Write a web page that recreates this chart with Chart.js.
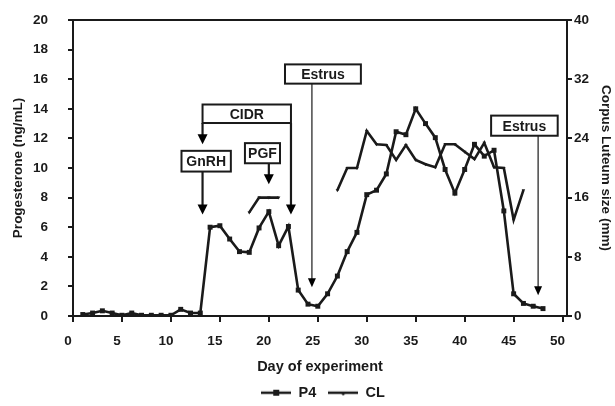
<!DOCTYPE html>
<html>
<head>
<meta charset="utf-8">
<script src="https://cdn.jsdelivr.net/npm/chart.js@4.4.1/dist/chart.umd.min.js"></script>
<style>
  html, body { margin: 0; padding: 0; background: #fff; }
  #wrap { width: 615px; height: 406px; }
</style>
</head>
<body>
<div id="wrap"><canvas id="progChart"></canvas></div>
<script>
// Day of experiment
const days = [1, 2, 3, 4, 5, 6, 7, 8, 9, 10, 11, 12, 13, 14, 15, 16, 17, 18, 19, 20, 21, 22, 23, 24,
              25, 26, 27, 28, 29, 30, 31, 32, 33, 34, 35, 36, 37, 38, 39, 40, 41, 42, 43, 44, 45, 46, 47, 48];

// Progesterone (ng/mL)
const p4 = [0.1, 0.2, 0.35, 0.2, 0.05, 0.2, 0.05, 0.05, 0.05, 0.05, 0.45, 0.2, 0.2, 6.0, 6.1, 5.2,
            4.35, 4.3, 5.95, 7.05, 4.75, 6.05, 1.75, 0.8, 0.66, 1.5, 2.7, 4.35, 5.65, 8.2, 8.5, 9.6,
            12.45, 12.25, 14.0, 13.0, 12.05, 9.9, 8.3, 9.9, 11.6, 10.8, 11.2, 7.1, 1.5, 0.85, 0.66, 0.5];

// Corpus luteum size (mm), null = not measured
const cl = [null, null, null, null, null, null, null, null, null, null, null, null, null, null, null, null,
            null, 14, 16, 16, 16, null, null, null, null, null, 17, 20, 20, 25, 23.2, 23.1,
            21.1, 23.1, 21.1, 20.5, 20.1, 23.2, 23.2, 22.2, 21.2, 23.4, 20.1, 20, 13, 17, null, null];

const xTicks = [0, 5, 10, 15, 20, 25, 30, 35, 40, 45, 50];

// event boxes and arrows (in axis units: day / ng/mL)
const eventBoxes = [
    { text: 'Estrus', x0: 21.65, x1: 29.4, y0: 15.7, y1: 17.0 },
    { text: 'CIDR', x0: 13.23, x1: 22.26, y0: 13.04, y1: 14.29 },
    { text: 'GnRH', x0: 11.08, x1: 16.12, y0: 9.76, y1: 11.16 },
    { text: 'PGF', x0: 17.56, x1: 21.14, y0: 10.32, y1: 11.68 },
    { text: 'Estrus', x0: 42.7, x1: 49.5, y0: 12.18, y1: 13.54 }
];
const eventArrows = [
    { x: 24.4, from: 15.7, to: 1.95, thick: false },
    { x: 13.23, from: 13.04, to: 11.6, thick: true },
    { x: 22.26, from: 13.04, to: 6.85, thick: true },
    { x: 13.23, from: 9.76, to: 6.85, thick: true },
    { x: 20.0, from: 10.32, to: 8.9, thick: true },
    { x: 47.5, from: 12.18, to: 1.4, thick: false }
];

const ink = '#1a1a1a';
const fontFamily = 'Liberation Sans, Arial, sans-serif';
const tickFont = { family: fontFamily, size: 13.5, weight: 'bold' };
const bigFont = { family: fontFamily, size: 14.5, weight: 'bold' };

// small legend symbols: line with marker
function legendSymbol(kind) {
    const c = document.createElement('canvas');
    c.width = 30; c.height = 10;
    const g = c.getContext('2d');
    g.strokeStyle = ink; g.fillStyle = ink; g.lineWidth = 2.5;
    g.beginPath(); g.moveTo(0, 5); g.lineTo(30, 5); g.stroke();
    if (kind === 'rect') {
        g.fillRect(12, 2, 6, 6);
    } else {
        g.beginPath(); g.moveTo(11.5, 4); g.lineTo(18.5, 4); g.lineTo(15, 8); g.closePath(); g.fill();
    }
    return c;
}

const framePlugin = {
    id: 'frame',
    afterLayout(chart) {
        // legend sits centred under the plot area, a little lower
        const shift = (chart.chartArea.left + chart.chartArea.right) / 2 - chart.width / 2 + 3;
        chart.legend.left += shift;
        chart.legend.right += shift;
        chart.legend.top += 4;
        chart.legend.bottom += 4;
    },
    afterDatasetsDraw(chart) {
        const { ctx, chartArea, scales } = chart;
        const xs = scales.x, ys = scales.y;
        ctx.save();
        // top border
        ctx.strokeStyle = ink;
        ctx.lineWidth = 2;
        ctx.beginPath();
        ctx.moveTo(chartArea.left - 1, chartArea.top);
        ctx.lineTo(chartArea.right + 1, chartArea.top);
        ctx.stroke();

        // arrows
        eventArrows.forEach(a => {
            const x = xs.getPixelForValue(a.x);
            const y0 = ys.getPixelForValue(a.from);
            const y1 = ys.getPixelForValue(a.to);
            const hw = a.thick ? 5 : 4;
            const hh = a.thick ? 10 : 9;
            ctx.lineWidth = a.thick ? 2.2 : 1.2;
            ctx.beginPath();
            ctx.moveTo(x, y0);
            ctx.lineTo(x, y1 - hh + 1);
            ctx.stroke();
            ctx.beginPath();
            ctx.moveTo(x - hw, y1 - hh);
            ctx.lineTo(x + hw, y1 - hh);
            ctx.lineTo(x, y1);
            ctx.closePath();
            ctx.fill();
        });

        // boxes
        ctx.font = 'bold 14px "Liberation Sans", Arial, sans-serif';
        ctx.textAlign = 'center';
        ctx.textBaseline = 'middle';
        eventBoxes.forEach(b => {
            const l = xs.getPixelForValue(b.x0), r = xs.getPixelForValue(b.x1);
            const t = ys.getPixelForValue(b.y1), btm = ys.getPixelForValue(b.y0);
            ctx.fillStyle = '#fff';
            ctx.fillRect(l, t, r - l, btm - t);
            ctx.lineWidth = 2;
            ctx.strokeStyle = ink;
            ctx.strokeRect(l, t, r - l, btm - t);
            ctx.fillStyle = ink;
            ctx.fillText(b.text, (l + r) / 2, (t + btm) / 2 + 1);
        });
        ctx.restore();
    }
};

const ctx = document.getElementById('progChart').getContext('2d');
const progChart = new Chart(ctx, {
    type: 'line',
    data: {
        datasets: [{
            label: 'P4',
            data: days.map((d, i) => ({ x: d, y: p4[i] })),
            yAxisID: 'y',
            borderColor: ink,
            backgroundColor: ink,
            borderWidth: 2.6,
            pointStyle: 'rect',
            pointRadius: 3.5,
            pointBorderWidth: 0,
            tension: 0
        }, {
            label: 'CL',
            data: days.map((d, i) => ({ x: d, y: cl[i] })),
            yAxisID: 'y2',
            borderColor: ink,
            backgroundColor: ink,
            borderWidth: 2.6,
            pointStyle: 'triangle',
            rotation: 180,
            pointRadius: 2,
            pointBorderWidth: 0,
            spanGaps: false,
            tension: 0
        }]
    },
    options: {
        responsive: true,
        maintainAspectRatio: false,
        animation: false,
        layout: { padding: { top: 20, left: 0, right: 0, bottom: 0 } },
        plugins: {
            tooltip: { enabled: false },
            legend: {
                position: 'bottom',
                labels: {
                    color: ink,
                    font: bigFont,
                    usePointStyle: true,
                    pointStyleWidth: 30,
                    padding: 12,
                    generateLabels: () => [
                        { text: 'P4', pointStyle: legendSymbol('rect'), fontColor: ink, lineWidth: 0, strokeStyle: ink, fillStyle: ink, datasetIndex: 0 },
                        { text: 'CL', pointStyle: legendSymbol('tri'), fontColor: ink, lineWidth: 0, strokeStyle: ink, fillStyle: ink, datasetIndex: 1 }
                    ]
                }
            }
        },
        scales: {
            x: {
                type: 'linear',
                min: 0,
                max: 50.45,
                afterBuildTicks: s => { s.ticks = xTicks.map(v => ({ value: v })); },
                afterFit: s => { s.height = 53.5; },
                ticks: { color: ink, font: tickFont, padding: 11.5, maxRotation: 0, labelOffset: -5 },
                grid: { drawOnChartArea: false, tickLength: 6, color: ink, lineWidth: 2 },
                border: { color: ink, width: 2 },
                title: { display: true, text: 'Day of experiment', color: ink, font: bigFont, padding: { top: 0, bottom: -5.9 } }
            },
            y: {
                position: 'left',
                min: 0,
                max: 20,
                afterFit: s => { s.width = 73; s.paddingTop = 0; s.paddingBottom = 0; },
                ticks: { stepSize: 2, color: ink, font: tickFont, padding: 20 },
                grid: { drawOnChartArea: false, tickLength: 5, color: ink, lineWidth: 2 },
                border: { color: ink, width: 2 },
                title: { display: true, text: 'Progesterone (ng/mL)', color: ink, font: tickFont, padding: { top: 10, bottom: 0 } }
            },
            y2: {
                position: 'right',
                min: 0,
                max: 40,
                afterFit: s => { s.width = 48; s.paddingTop = 0; s.paddingBottom = 0; },
                ticks: { stepSize: 8, color: ink, font: tickFont, padding: 2 },
                grid: { drawOnChartArea: false, tickLength: 5, color: ink, lineWidth: 2 },
                border: { color: ink, width: 2 },
                title: { display: true, text: 'Corpus Luteum size (mm)', color: ink, font: tickFont, padding: { top: 1, bottom: 0 } }
            }
        }
    },
    plugins: [framePlugin]
});
</script>
</body>
</html>
